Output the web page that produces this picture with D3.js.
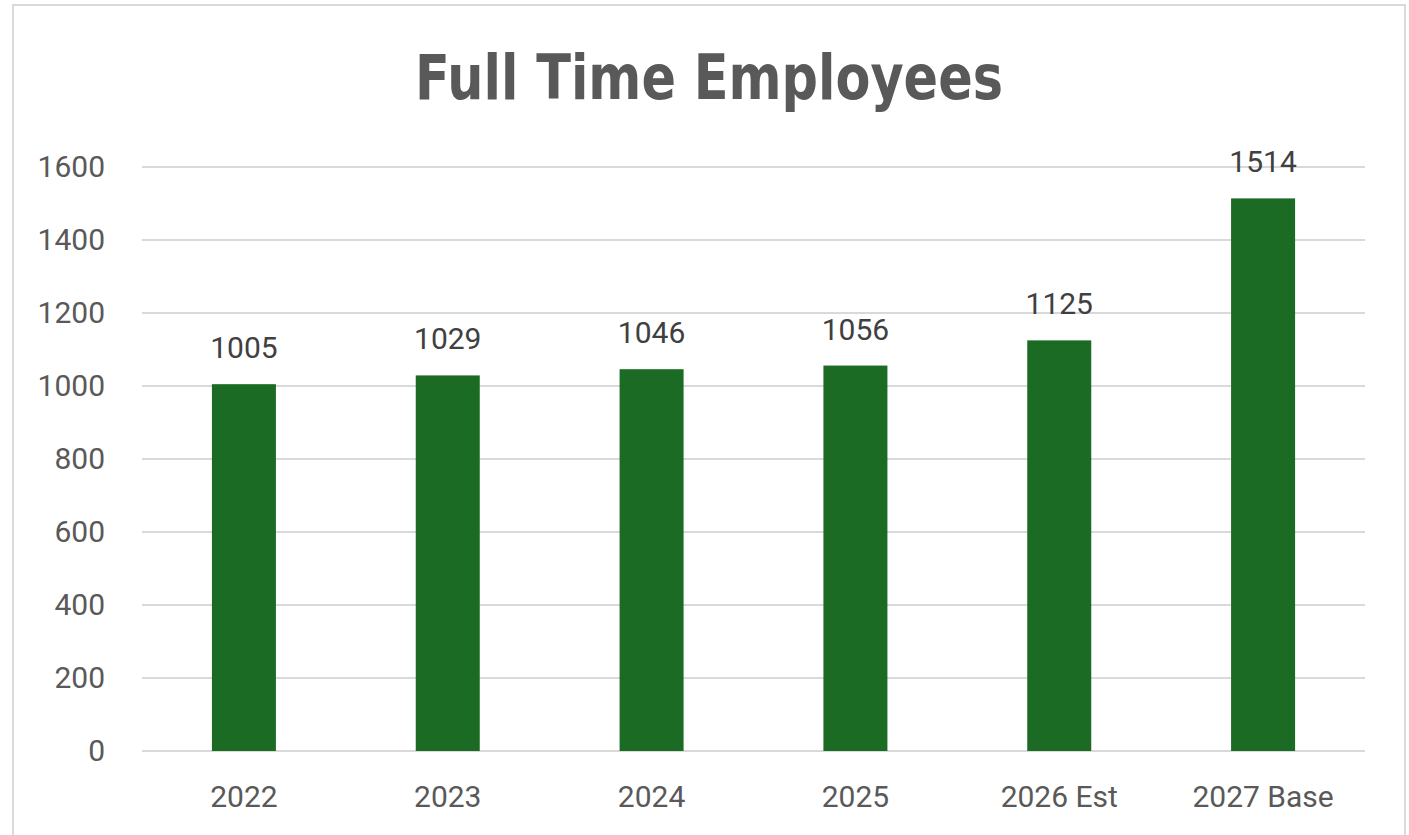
<!DOCTYPE html>
<html>
<head>
<meta charset="utf-8">
<script src="https://cdn.jsdelivr.net/npm/d3@7"></script>
<style>
  body { margin: 0; background: #fff; }
  svg { display: block; }
</style>
</head>
<body>
<div id="chart"></div>
<script>
var categories = ["2022", "2023", "2024", "2025", "2026 Est", "2027 Base"];
var employees = [1005, 1029, 1046, 1056, 1125, 1514];
var yTicks = [0, 200, 400, 600, 800, 1000, 1200, 1400, 1600];

var width = 1409, height = 835;
var margin = {left: 142, right: 44, top: 167, bottom: 84};

var svg = d3.select("#chart").append("svg")
    .attr("width", width)
    .attr("height", height);

// chart frame
svg.append("rect")
    .attr("x", 13).attr("y", 5)
    .attr("width", 1392).attr("height", 845)
    .attr("fill", "#fff")
    .attr("stroke", "#d9d9d9")
    .attr("stroke-width", 2);

var x = d3.scaleBand()
    .domain(categories)
    .range([margin.left, width - margin.right])
    .paddingInner(0.686)
    .paddingOuter(0.343);

var y = d3.scaleLinear()
    .domain([0, 1600])
    .range([height - margin.bottom, margin.top]);

// gridlines
svg.append("g")
  .selectAll("line")
  .data(yTicks)
  .enter().append("line")
    .attr("x1", margin.left)
    .attr("x2", width - margin.right)
    .attr("y1", d => y(d))
    .attr("y2", d => y(d))
    .attr("stroke", "#d9d9d9")
    .attr("stroke-width", 2);

// y labels
svg.append("g")
  .selectAll("text")
  .data(yTicks)
  .enter().append("text")
    .attr("x", 105)
    .attr("y", d => y(d) + 10)
    .attr("text-anchor", "end")
    .attr("font-family", "Roboto, sans-serif")
    .attr("font-size", 30)
    .attr("fill", "#595959")
    .text(d => d);

// bars
svg.append("g")
  .selectAll("rect")
  .data(employees)
  .enter().append("rect")
    .attr("x", (d, i) => x(categories[i]))
    .attr("y", d => y(d))
    .attr("width", x.bandwidth())
    .attr("height", d => y(0) - y(d))
    .attr("fill", "#1b6b24");

// value labels
svg.append("g")
  .selectAll("text")
  .data(employees)
  .enter().append("text")
    .attr("x", (d, i) => x(categories[i]) + x.bandwidth() / 2)
    .attr("y", d => y(d) - 26)
    .attr("text-anchor", "middle")
    .attr("font-family", "Roboto, sans-serif")
    .attr("font-size", 30)
    .attr("fill", "#404040")
    .text(d => d);

// category labels
svg.append("g")
  .selectAll("text")
  .data(categories)
  .enter().append("text")
    .attr("x", d => x(d) + x.bandwidth() / 2)
    .attr("y", 807)
    .attr("text-anchor", "middle")
    .attr("font-family", "Roboto, sans-serif")
    .attr("font-size", 30)
    .attr("fill", "#595959")
    .text(d => d);

// title (condensed look via textLength)
svg.append("text")
    .attr("x", 709)
    .attr("y", 99)
    .attr("text-anchor", "middle")
    .attr("font-family", "'DejaVu Sans', sans-serif")
    .attr("font-weight", "bold")
    .attr("font-size", 62)
    .attr("textLength", 588)
    .attr("lengthAdjust", "spacingAndGlyphs")
    .attr("fill", "#595959")
    .text("Full Time Employees");
</script>
</body>
</html>
